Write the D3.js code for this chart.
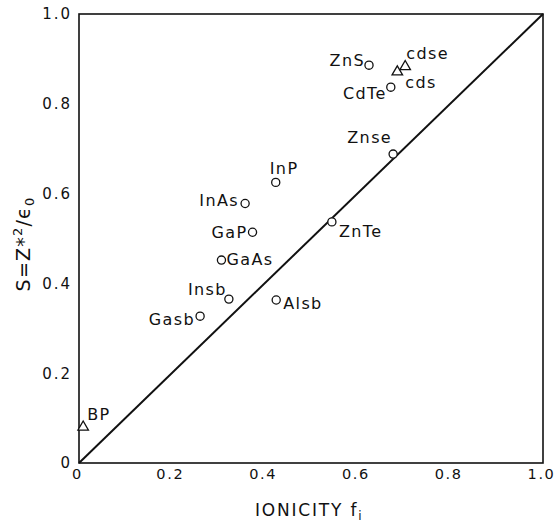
<!DOCTYPE html>
<html>
<head>
<meta charset="utf-8">
<script src="https://cdn.jsdelivr.net/npm/d3@7"></script>
<style>
  html, body { margin: 0; padding: 0; background: #fff; }
  svg { display: block; }
  text { font-family: "DejaVu Sans", "Liberation Sans", sans-serif; fill: #111; }
</style>
</head>
<body>
<svg id="chart" width="554" height="523"></svg>
<script>
// Compounds: Phillips ionicity f_i versus S = Z*^2 / eps_0
const compounds = ["BP", "Gasb", "Insb", "Alsb", "GaAs", "GaP", "InAs", "InP",
                   "ZnTe", "Znse", "CdTe", "ZnS", "cds", "cdse"];
const ionicity  = [0.009, 0.261, 0.323, 0.425, 0.307, 0.374, 0.358, 0.424,
                   0.545, 0.677, 0.672, 0.625, 0.686, 0.703];
const sValues   = [0.080, 0.327, 0.365, 0.363, 0.452, 0.514, 0.578, 0.625,
                   0.537, 0.688, 0.837, 0.886, 0.871, 0.883];
const markers   = ["triangle", "circle", "circle", "circle", "circle", "circle", "circle", "circle",
                   "circle", "circle", "circle", "circle", "triangle", "triangle"];

const xTicks = [0, 0.2, 0.4, 0.6, 0.8, 1.0];
const xTickLabels = ["0", "0.2", "0.4", "0.6", "0.8", "1.0"];
const yTicks = [0, 0.2, 0.4, 0.6, 0.8, 1.0];
const yTickLabels = ["0", "0.2", "0.4", "0.6", "0.8", "1.0"];

// label placement relative to each marker: [dx, dy, anchor]
const labelPlace = [
  [4, -7, "start"],   // BP
  [-5, 9, "end"],     // GaSb
  [-2, -4, "end"],    // InSb
  [7, 9, "start"],    // AlSb
  [5, 5, "start"],    // GaAs
  [-5, 6, "end"],     // GaP
  [-6, 3, "end"],     // InAs
  [-6, -8, "start"],  // InP
  [7, 15, "start"],   // ZnTe
  [-1, -11, "end"],   // ZnSe
  [-4, 12, "end"],    // CdTe
  [-4, 1, "end"],     // ZnS
  [8, 16, "start"],   // CdS
  [1, -8, "start"]    // CdSe
];

const svg = d3.select("#chart");
const x = d3.scaleLinear().domain([0, 1]).range([79, 543]);
const y = d3.scaleLinear().domain([0, 1]).range([463, 14]);

// frame
svg.append("rect")
  .attr("x", x(0)).attr("y", y(1))
  .attr("width", x(1) - x(0)).attr("height", y(0) - y(1))
  .attr("fill", "none").attr("stroke", "#111").attr("stroke-width", 1.6);

// diagonal S = f_i
svg.append("line")
  .attr("x1", x(0)).attr("y1", y(0)).attr("x2", x(1)).attr("y2", y(1))
  .attr("stroke", "#111").attr("stroke-width", 2);

// axes (labels only)
const xAxis = d3.axisBottom(x).tickValues(xTicks)
  .tickFormat((d, i) => xTickLabels[i]).tickSize(0).tickPadding(6);
const gx = svg.append("g").attr("transform", `translate(0,${y(0)})`).call(xAxis);
const yAxis = d3.axisLeft(y).tickValues(yTicks)
  .tickFormat((d, i) => yTickLabels[i]).tickSize(0).tickPadding(7);
const gy = svg.append("g").attr("transform", `translate(${x(0)},0)`).call(yAxis);
[gx, gy].forEach(g => {
  g.select(".domain").remove();
  g.selectAll("text")
    .attr("font-family", "DejaVu Sans, sans-serif")
    .attr("font-size", 15)
    .attr("letter-spacing", 2)
    .attr("fill", "#111");
});
gx.selectAll("text").attr("font-size", 14.5).attr("letter-spacing", 1.6).attr("dx", -2);

// markers
const pts = compounds.map((c, i) => ({ name: c, fi: ionicity[i], s: sValues[i], m: markers[i], lp: labelPlace[i] }));
svg.append("g").selectAll("path").data(pts).join("path")
  .attr("transform", d => `translate(${x(d.fi)},${y(d.s)})`)
  .attr("d", d => d.m === "circle"
      ? d3.symbol(d3.symbolCircle, 52)()
      : d3.symbol(d3.symbolTriangle, 48)())
  .attr("fill", "#fff").attr("stroke", "#111").attr("stroke-width", 1.3);

// compound labels
svg.append("g").selectAll("text").data(pts).join("text")
  .attr("x", d => x(d.fi) + d.lp[0])
  .attr("y", d => y(d.s) + d.lp[1])
  .attr("text-anchor", d => d.lp[2])
  .attr("font-size", 16)
  .attr("letter-spacing", 1.4)
  .text(d => d.name);

// axis titles
const xt = svg.append("text")
  .attr("x", 255).attr("y", 516)
  .attr("font-size", 17).attr("letter-spacing", 1.8);
xt.append("tspan").text("IONICITY f");
xt.append("tspan").attr("font-size", 12).attr("dy", 4).text("i");

const yt = svg.append("text")
  .attr("transform", "translate(30,244) rotate(-90)")
  .attr("text-anchor", "middle").attr("font-size", 19).attr("letter-spacing", 1.2);
yt.append("tspan").text("S=Z*");
yt.append("tspan").attr("font-size", 13).attr("dy", -8).text("2");
yt.append("tspan").attr("dy", 8).text("/ϵ");
yt.append("tspan").attr("font-size", 13).attr("dy", 4).text("0");
</script>
</body>
</html>
